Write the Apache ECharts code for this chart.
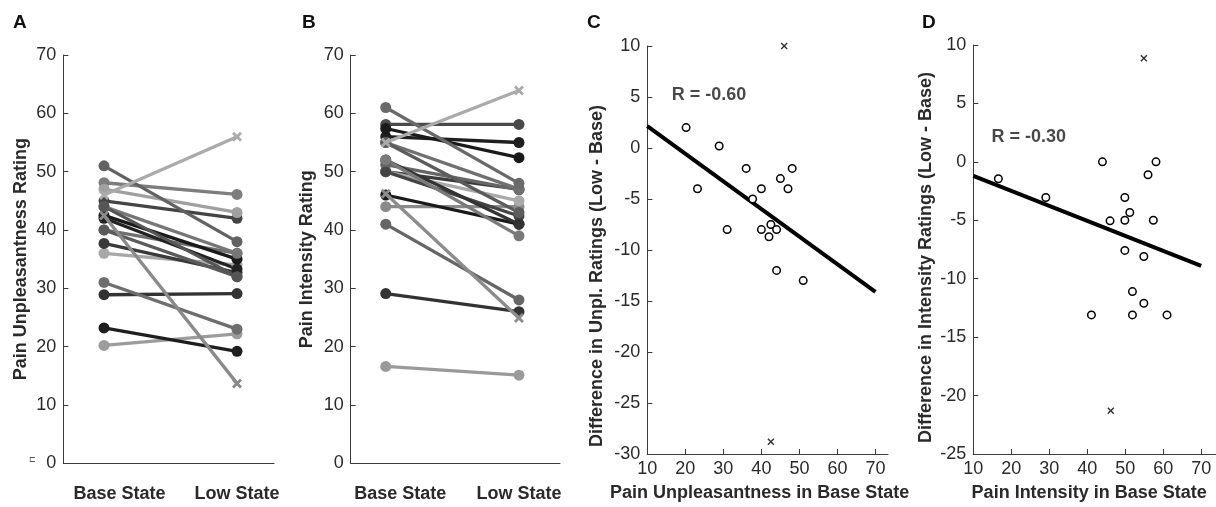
<!DOCTYPE html>
<html>
<head>
<meta charset="utf-8">
<script src="https://cdn.jsdelivr.net/npm/echarts@6/dist/echarts.min.js"></script>
<style>
  html, body { margin: 0; padding: 0; background: #fff; }
  #chart { width: 1216px; height: 507px; }
</style>
</head>
<body>
<div id="chart"></div>
<script>
// ---------- data ----------
const categories = ['Base State', 'Low State'];

// Panel A: pain unpleasantness (one entry per subject)
const unplBase = [20.2, 28.9, 23.2, 36, 45, 48.1, 40, 47, 37.7, 31, 40, 42.5, 44, 42, 44, 51, 46, 42.5];
const unplLow  = [22.2, 29.1, 19.2, 34, 42, 46.1, 36, 43, 32.7, 23, 32, 35, 36, 33.3, 32, 38, 56, 13.7];
const unplOutlier = [false, false, false, false, false, false, false, false, false, false, false, false, false, false, false, false, true, true];

// Panel B: pain intensity (one entry per subject)
const intBase = [16.6, 29.1, 44, 58.1, 56, 50, 51.2, 46, 50, 57.4, 50, 55, 52, 55, 41, 52, 61, 55, 46.2];
const intLow  = [15.1, 26, 44, 58.1, 55, 47, 46.9, 41, 45, 52.4, 42.4, 47, 41, 43, 28, 39, 48, 63.9, 24.9];
const intOutlier = [false, false, false, false, false, false, false, false, false, false, false, false, false, false, false, false, false, true, true];

// Panel C: difference in unpleasantness vs base unpleasantness
const cBase = [20.2, 28.9, 23.2, 36, 45, 48.1, 40, 47, 37.7, 31, 40, 42.5, 44, 42, 44, 51];
const cDiff = [2, 0.2, -4, -2, -3, -2, -4, -4, -5, -8, -8, -7.5, -8, -8.7, -12, -13];
const cOutBase = [46, 42.5];
const cOutDiff = [10, -28.8];
const cFitX = [10, 70];
const cFitY = [2.15, -14.1];
const cR = 'R = -0.60';

// Panel D: difference in intensity vs base intensity
const dBase = [16.6, 29.1, 44, 58.1, 56, 49.9, 51.2, 46, 49.9, 57.4, 49.9, 54.9, 51.9, 54.9, 41.1, 51.9, 61];
const dDiff = [-1.45, -3.05, 0, 0, -1.1, -3.05, -4.33, -5.05, -5, -5, -7.58, -8.1, -11.1, -12.1, -13.1, -13.1, -13.1];
const dOutBase = [54.9, 46.2];
const dOutDiff = [8.86, -21.3];
const dFitX = [10, 70];
const dFitY = [-1.2, -8.9];
const dR = 'R = -0.30';

// tick labels
const ratingTicks = [0, 10, 20, 30, 40, 50, 60, 70];
const baseTicks = [10, 20, 30, 40, 50, 60, 70];

// ---------- styles ----------
const unplGrays = ['#9c9c9c', '#333333', '#1e1e1e', '#a8a8a8', '#444444', '#7d7d7d', '#707070', '#a0a0a0', '#3a3a3a', '#6e6e6e', '#5a5a5a', '#1a1a1a', '#777777', '#222222', '#555555', '#626262', '#aaaaaa', '#8a8a8a'];
const intGrays = ['#9a9a9a', '#333333', '#8a8a8a', '#4a4a4a', '#1f1f1f', '#3c3c3c', '#666666', '#1a1a1a', '#aaaaaa', '#1a1a1a', '#444444', '#707070', '#333333', '#5c5c5c', '#666666', '#7a7a7a', '#6a6a6a', '#aaaaaa', '#8c8c8c'];

const FONT = '"Liberation Sans", Arial, Helvetica, sans-serif';
const TXT = '#2a2a2a';
const AX = '#3a3a3a';
const thickX = 'path://M2,0 L5,3 L8,0 L10,2 L7,5 L10,8 L8,10 L5,7 L2,10 L0,8 L3,5 L0,2 Z';
const thinX = 'path://M1.5,0 L5,3.5 L8.5,0 L10,1.5 L6.5,5 L10,8.5 L8.5,10 L5,6.5 L1.5,10 L0,8.5 L3.5,5 L0,1.5 Z';

function axisLineStyle() { return { show: true, onZero: false, lineStyle: { color: AX, width: 1 } }; }

const grids = [
  { left: 63.3, top: 55, width: 210.7, height: 408.3 },
  { left: 350.7, top: 55, width: 209.3, height: 408.3 },
  { left: 647.3, top: 46, width: 240.7, height: 408.8 },
  { left: 973.3, top: 45, width: 242.7, height: 409.5 }
];

function catXAxis(gi, min, max, basePad) {
  return {
    type: 'value', gridIndex: gi, min: min, max: max,
    axisLine: axisLineStyle(), axisTick: { show: false }, splitLine: { show: false },
    axisLabel: {
      customValues: [1, 2], margin: 22,
      formatter: v => (Math.round(v) === 1 ? '{b|' : '{l|') + categories[Math.round(v) - 1] + '}',
      rich: {
        b: { fontFamily: FONT, fontSize: 18, fontWeight: 'bold', color: TXT, padding: [0, 0, 0, basePad] },
        l: { fontFamily: FONT, fontSize: 18, fontWeight: 'bold', color: TXT }
      },
      fontFamily: FONT, fontSize: 18, fontWeight: 'bold', color: TXT
    }
  };
}
function ratingYAxis(gi, name, gap) {
  return {
    type: 'value', gridIndex: gi, min: 0, max: 70, interval: 10,
    axisLine: axisLineStyle(), splitLine: { show: false },
    axisTick: { show: true, inside: true, length: 5, lineStyle: { color: AX } },
    axisLabel: { margin: 7, fontFamily: FONT, fontSize: 18, color: TXT },
    name: name, nameLocation: 'middle', nameGap: gap,
    nameTextStyle: { fontFamily: FONT, fontSize: 18, fontWeight: 'bold', color: TXT }
  };
}
function scatXAxis(gi, max, name, padRight) {
  return {
    type: 'value', gridIndex: gi, min: 10, max: max,
    axisLine: axisLineStyle(), splitLine: { show: false },
    axisTick: { show: true, inside: true, length: 5, customValues: baseTicks, lineStyle: { color: AX } },
    axisLabel: { customValues: baseTicks, margin: 6, fontFamily: FONT, fontSize: 18, color: TXT },
    name: name, nameLocation: 'middle', nameGap: 30,
    nameTextStyle: { fontFamily: FONT, fontSize: 18, fontWeight: 'bold', color: TXT, padding: [0, padRight, 0, 0] }
  };
}
function scatYAxis(gi, min, name, gap, padRight) {
  return {
    type: 'value', gridIndex: gi, min: min, max: 10, interval: 5,
    axisLine: axisLineStyle(), splitLine: { show: false },
    axisTick: { show: true, inside: true, length: 5, lineStyle: { color: AX } },
    axisLabel: { margin: 7, fontFamily: FONT, fontSize: 18, color: TXT },
    name: name, nameLocation: 'middle', nameGap: gap,
    nameTextStyle: { fontFamily: FONT, fontSize: 18, fontWeight: 'bold', color: TXT, padding: [0, padRight, 0, 0] }
  };
}

const series = [];
function pairedSeries(gi, base, low, outl, grays) {
  base.forEach((b, i) => {
    series.push({
      type: 'line', xAxisIndex: gi, yAxisIndex: gi,
      data: [[1, b], [2, low[i]]],
      symbol: outl[i] ? thickX : 'circle',
      symbolSize: outl[i] ? 10 : 11,
      lineStyle: { color: grays[i], width: 3.3 },
      itemStyle: { color: grays[i] },
      z: outl[i] ? 3 : 2,
      silent: true
    });
  });
}
pairedSeries(0, unplBase, unplLow, unplOutlier, unplGrays);
pairedSeries(1, intBase, intLow, intOutlier, intGrays);

function scatterPanel(gi, bx, dy, ox, oy, fx, fy, rText, rPos) {
  series.push({
    type: 'line', xAxisIndex: gi, yAxisIndex: gi,
    data: fx.map((x, i) => [x, fy[i]]),
    symbol: 'none', lineStyle: { color: '#000', width: 4 }, z: 2, silent: true
  });
  series.push({
    type: 'scatter', xAxisIndex: gi, yAxisIndex: gi,
    data: bx.map((x, i) => [x, dy[i]]),
    symbol: 'circle', symbolSize: 7.5,
    itemStyle: { color: '#ffffff', borderColor: '#000000', borderWidth: 1.5, opacity: 1 }, z: 3, silent: true
  });
  series.push({
    type: 'scatter', xAxisIndex: gi, yAxisIndex: gi,
    data: ox.map((x, i) => [x, oy[i]]),
    symbol: thinX, symbolSize: 7,
    itemStyle: { color: '#000' }, z: 3, silent: true
  });
  series.push({
    type: 'scatter', xAxisIndex: gi, yAxisIndex: gi,
    data: [rPos], symbolSize: 0,
    label: { show: true, position: 'right', distance: 0, formatter: rText,
      fontFamily: FONT, fontSize: 18, fontWeight: 'bold', color: '#1a1a1a' },
    silent: true
  });
}
scatterPanel(2, cBase, cDiff, cOutBase, cOutDiff, cFitX, cFitY, cR, [16.4, 5.2]);
scatterPanel(3, dBase, dDiff, dOutBase, dOutDiff, dFitX, dFitY, dR, [14.8, 2.1]);

const letterStyle = { fontFamily: FONT, fontSize: 19, fontWeight: 'bold', fill: '#111' };
const option = {
  animation: false,
  backgroundColor: '#ffffff',
  grid: grids,
  xAxis: [
    catXAxis(0, 0.694, 2.278, 31),
    catXAxis(1, 0.737, 2.308, 29),
    scatXAxis(2, 73.3, 'Pain Unpleasantness in Base State', 16),
    scatXAxis(3, 73.9, 'Pain Intensity in Base State', 11)
  ],
  yAxis: [
    ratingYAxis(0, 'Pain Unpleasantness Rating', 33),
    ratingYAxis(1, 'Pain Intensity Rating', 35),
    scatYAxis(2, -30, 'Difference in Unpl. Ratings (Low - Base)', 41, 52),
    scatYAxis(3, -25, 'Difference in Intensity Ratings (Low - Base)', 38, 16)
  ],
  series: series,
  graphic: [
    { type: 'text', left: 13, top: 13, style: Object.assign({ text: 'A' }, letterStyle) },
    { type: 'text', left: 302, top: 13, style: Object.assign({ text: 'B' }, letterStyle) },
    { type: 'text', left: 587, top: 13, style: Object.assign({ text: 'C' }, letterStyle) },
    { type: 'text', left: 922, top: 13, style: Object.assign({ text: 'D' }, letterStyle) },
    { type: 'text', left: 29, top: 456, style: { text: '⊏', fontFamily: FONT, fontSize: 8, fill: '#555' } }
  ]
};

const chart = echarts.init(document.getElementById('chart'), null, { renderer: 'canvas' });
chart.setOption(option);
</script>
</body>
</html>
